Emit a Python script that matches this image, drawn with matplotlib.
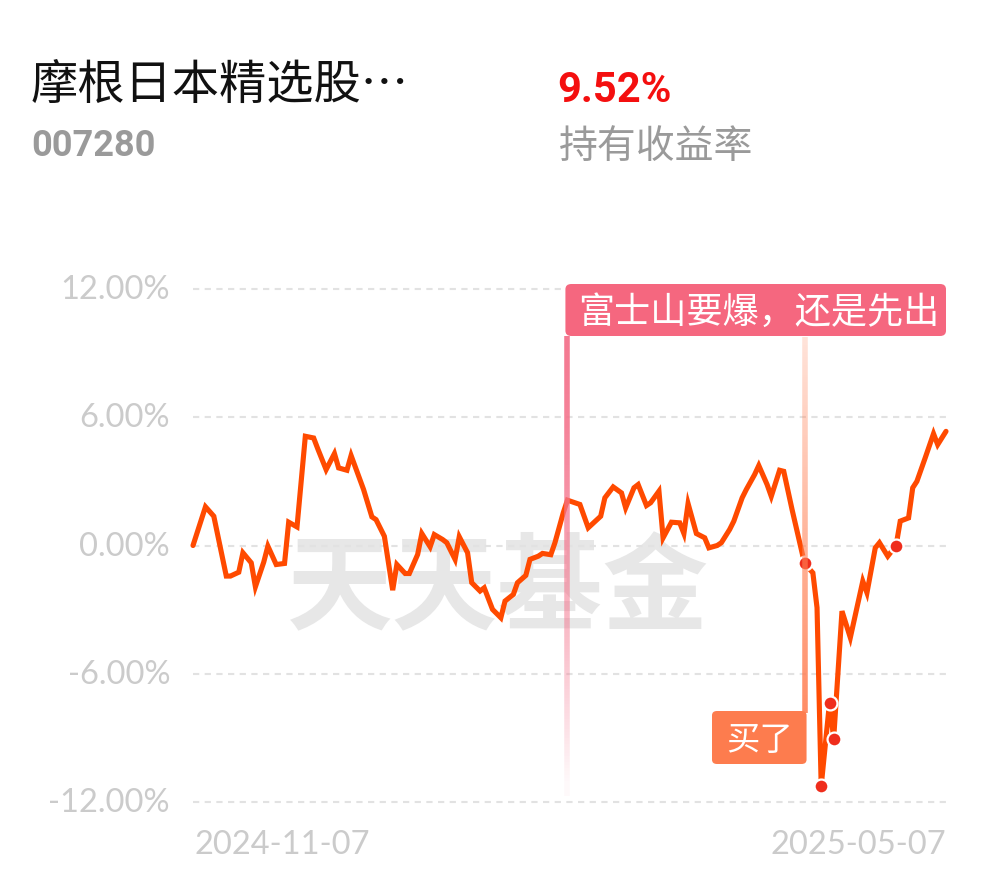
import matplotlib
matplotlib.use("Agg")
import matplotlib.pyplot as plt
import matplotlib.dates as mdates
from matplotlib.patches import FancyBboxPatch
from matplotlib.collections import LineCollection
import numpy as np
import pandas as pd

# ---------------- data ----------------
fund_name = "摩根日本精选股…"
fund_code = "007280"
hold_return = "9.52%"
hold_label = "持有收益率"

dates = [
    "2024-11-07", "2024-11-10", "2024-11-12", "2024-11-15", "2024-11-16", "2024-11-18",
    "2024-11-19", "2024-11-21", "2024-11-22", "2024-11-24", "2024-11-25", "2024-11-27",
    "2024-11-29", "2024-11-30", "2024-12-02", "2024-12-04", "2024-12-06", "2024-12-07",
    "2024-12-09", "2024-12-11", "2024-12-12", "2024-12-14", "2024-12-15", "2024-12-18",
    "2024-12-20", "2024-12-21", "2024-12-23", "2024-12-25", "2024-12-26", "2024-12-28",
    "2024-12-29", "2024-12-31", "2025-01-01", "2025-01-03", "2025-01-04", "2025-01-06",
    "2025-01-07", "2025-01-09", "2025-01-10", "2025-01-12", "2025-01-13", "2025-01-15",
    "2025-01-16", "2025-01-18", "2025-01-20", "2025-01-21", "2025-01-23", "2025-01-24",
    "2025-01-26", "2025-01-27", "2025-01-29", "2025-01-30", "2025-02-01", "2025-02-02",
    "2025-02-04", "2025-02-05", "2025-02-08", "2025-02-10", "2025-02-13", "2025-02-14",
    "2025-02-16", "2025-02-18", "2025-02-19", "2025-02-21", "2025-02-22", "2025-02-24",
    "2025-02-25", "2025-02-27", "2025-02-28", "2025-03-02", "2025-03-04", "2025-03-05",
    "2025-03-06", "2025-03-08", "2025-03-10", "2025-03-11", "2025-03-13", "2025-03-14",
    "2025-03-16", "2025-03-17", "2025-03-19", "2025-03-20", "2025-03-22", "2025-03-23",
    "2025-03-25", "2025-03-26", "2025-03-28", "2025-03-29", "2025-03-31", "2025-04-03",
    "2025-04-05", "2025-04-06", "2025-04-07", "2025-04-09", "2025-04-10", "2025-04-12",
    "2025-04-14", "2025-04-17", "2025-04-18", "2025-04-20", "2025-04-21", "2025-04-23",
    "2025-04-25", "2025-04-26", "2025-04-28", "2025-04-29", "2025-04-30", "2025-05-02",
    "2025-05-04", "2025-05-05", "2025-05-07",
]
returns = [
    0.00, 1.81, 1.37, -1.43, -1.43, -1.25,
    -0.34, -0.81, -1.93, -0.78, -0.03, -0.89,
    -0.84, 1.09, 0.87, 5.11, 5.03, 4.52,
    3.55, 4.30, 3.63, 3.52, 4.21, 2.62,
    1.34, 1.21, 0.43, -2.09, -0.89, -1.31,
    -1.31, -0.42, 0.56, -0.06, 0.51, 0.28,
    0.13, -0.65, 0.41, -0.34, -1.74, -2.13,
    -1.98, -2.99, -3.38, -2.60, -2.29, -1.74,
    -1.40, -0.65, -0.50, -0.37, -0.43, 0.13,
    1.53, 2.12, 1.92, 0.83, 1.37, 2.23,
    2.74, 2.46, 1.76, 2.70, 2.85, 1.87,
    2.00, 2.54, 0.36, 1.09, 1.06, 0.56,
    1.96, 0.56, 0.36, -0.11, 0.00, 0.13,
    0.75, 1.14, 2.23, 2.62, 3.32, 3.74,
    2.85, 2.30, 3.52, 3.47, 1.68, -0.84,
    -1.28, -2.91, -11.25, -7.35, -9.03, -3.07,
    -4.31, -1.67, -2.21, -0.11, 0.13, -0.50,
    0.00, 1.14, 1.29, 2.70, 3.00, 4.10,
    5.23, 4.72, 5.34,
]
trade_dates = ["2025-04-03", "2025-04-07", "2025-04-09", "2025-04-10", "2025-04-25"]

yticks = [12, 6, 0, -6, -12]
ytick_labels = ["12.00%", "6.00%", "0.00%", "-6.00%", "-12.00%"]
x_start, x_end = "2024-11-07", "2025-05-07"

note1_date, note1_text = "2025-02-05", "富士山要爆，还是先出"
note2_date, note2_text = "2025-04-03", "买了"
watermark = "天天基金"

# ---------------- styling ----------------
CJK = ["Noto Sans CJK SC", "DejaVu Sans"]
LAT = ["Lato", "DejaVu Sans"]
plt.rcParams["font.family"] = CJK

W, H = 990, 878
fig = plt.figure(figsize=(W / 100, H / 100), dpi=100)
fig.patch.set_facecolor("white")

def fx(px):
    return px / W

def fy(py):
    return 1 - py / H

ax = fig.add_axes([fx(193), fy(803), fx(946) - fx(193), fy(290) - fy(803)])
ax.set_facecolor("none")

x = pd.to_datetime(dates)
y = np.array(returns)
ax.set_xlim(pd.Timestamp(x_start), pd.Timestamp(x_end))
ax.set_ylim(-12, 12)

for s in ax.spines.values():
    s.set_visible(False)
ax.set_xticks([])
ax.set_yticks([])

# grid lines
for v in yticks:
    ax.axhline(v, color="#e2e2e2", lw=1.5, ls=(0, (3, 2.6)), zorder=1, clip_on=False)

# watermark
ax.text(0.405, 0.414, watermark, transform=ax.transAxes, ha="center", va="center",
        fontsize=76, fontweight="bold", color="#e7e7e7", zorder=0.5, family=CJK)

# y tick labels
for v, lab in zip(yticks, ytick_labels):
    ax.text(fx(170), ax.transData.transform((0, v))[1] / H, lab, transform=fig.transFigure,
            ha="right", va="center", fontsize=23.5, color="#cbcbcb", family=LAT)

# x tick labels
fig.text(fx(194), fy(845), x_start, ha="left", va="center", fontsize=23.5, color="#cbcbcb",
         family=LAT)
fig.text(fx(946), fy(845), x_end, ha="right", va="center", fontsize=23.5, color="#cbcbcb",
         family=LAT)

fig.canvas.draw()

def data_px(d):
    return ax.transData.transform((mdates.date2num(pd.Timestamp(d)), 0))[0]

# vertical annotation line 1 (pink, fading downward)
xa = data_px(note1_date)
n = 150
ys = np.linspace(337, 797, n + 1)
segs = [[(fx(xa), fy(ys[i])), (fx(xa), fy(ys[i + 1]))] for i in range(n)]
t = np.linspace(0, 1, n)
alphas = np.clip(1.0 - t ** 1.6, 0.04, 1) * 0.95
cols = [(0.957, 0.45, 0.55, a) for a in alphas]
lc = LineCollection(segs, colors=cols, linewidths=4.0, transform=fig.transFigure, zorder=2)
fig.add_artist(lc)

# vertical annotation line 2 (peach, darker downward)
xb = data_px(note2_date)
ys2 = np.linspace(338, 714, n + 1)
segs2 = [[(fx(xb), fy(ys2[i])), (fx(xb), fy(ys2[i + 1]))] for i in range(n)]
alphas2 = np.linspace(0.22, 0.9, n)
cols2 = [(1.0, 0.50, 0.33, a) for a in alphas2]
lc2 = LineCollection(segs2, colors=cols2, linewidths=4.0, transform=fig.transFigure, zorder=2)
fig.add_artist(lc2)

# the return line
ax.plot(x, y, color="#ff4a00", lw=3.7, solid_joinstyle="miter", solid_capstyle="round",
        zorder=5, clip_on=False)

# trade markers
mask = pd.Series(x).isin(pd.to_datetime(trade_dates)).values
ax.plot(x[mask], y[mask], ls="none", marker="o", ms=10, mfc="#ef2d1c", mec="white",
        mew=1.6, zorder=6, clip_on=False)

# annotation box 1
b1 = FancyBboxPatch((fx(xa - 2), fy(337)), fx(946) - fx(xa - 2), fy(285) - fy(337),
                    boxstyle="round,pad=0,rounding_size=0.006", transform=fig.transFigure,
                    fc="#f5677f", ec="none", zorder=3)
fig.add_artist(b1)
fig.text(fx(xa + 11), fy(313), note1_text, ha="left", va="center", fontsize=26,
         color="white", family=CJK, zorder=4)

# annotation box 2
b2 = FancyBboxPatch((fx(712), fy(765)), fx(xb + 2) - fx(712), fy(712) - fy(765),
                    boxstyle="round,pad=0,rounding_size=0.005", transform=fig.transFigure,
                    fc="#fd7c4e", ec="none", zorder=3)
fig.add_artist(b2)
fig.text((fx(712) + fx(xb + 2)) / 2, fy(741), note2_text, ha="center", va="center",
         fontsize=24, color="white", family=CJK, zorder=4)

# header
fig.text(fx(31), fy(86), fund_name, ha="left", va="center", fontsize=34, color="#111111",
         family=CJK)
fig.text(fx(31), fy(146), fund_code, ha="left", va="center", fontsize=26, fontweight="bold",
         color="#9a9a9a", family=["Roboto", "DejaVu Sans"])
fig.text(fx(557), fy(90), hold_return, ha="left", va="center", fontsize=30, fontweight="bold",
         color="#f40f0f", family=["Roboto", "DejaVu Sans"])
fig.text(fx(559), fy(147), hold_label, ha="left", va="center", fontsize=28, color="#9a9a9a",
         family=CJK)

fig.savefig("out.png", dpi=100, facecolor="white")
